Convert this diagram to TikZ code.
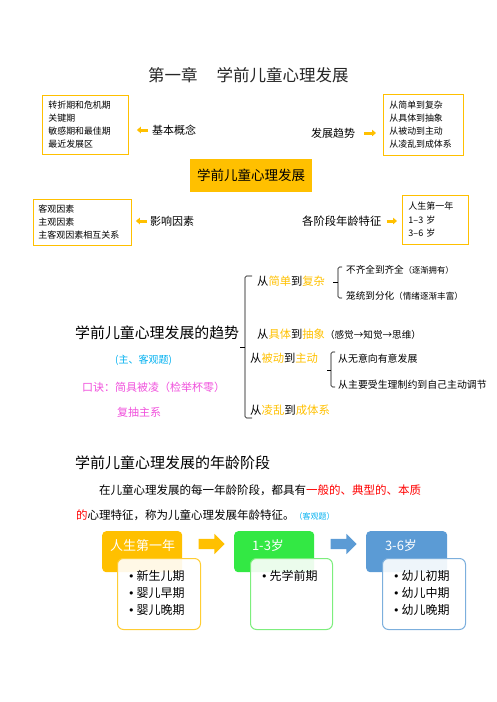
\documentclass[tikz,border=0pt]{standalone}
\usepackage{fontspec}
\setmainfont{Noto Sans CJK SC}
\newfontfamily\dejavu{DejaVu Sans}
\usetikzlibrary{shapes.arrows,arrows.meta}
\definecolor{orng}{RGB}{255,192,0}
\definecolor{grn}{RGB}{51,232,68}
\definecolor{lgrn}{RGB}{125,238,125}
\definecolor{blu}{RGB}{91,155,213}
\definecolor{cyn}{RGB}{0,176,240}
\definecolor{mgt}{RGB}{240,80,220}
\newcommand{\fs}[2]{\fontsize{#1}{#2}\selectfont}
\newcommand{\bul}{\makebox[8.5pt][l]{{\dejavu\fs{11}{13}•}}}
\tikzset{
 lbl/.style={inner sep=0,anchor=west},
 listbox/.style={draw=orng,line width=0.9pt,align=left,inner xsep=6pt,anchor=north west},
 sarrow/.style={orng,line width=3pt,-{Triangle[length=4pt,width=6.5pt]}},
 brk/.style={line width=0.6pt,rounded corners=1.5pt},
 head/.style={rounded corners=4pt,anchor=north west,minimum width=80pt,minimum height=41pt,inner sep=0},
 body/.style={line width=1pt,fill=white,fill opacity=0.9,rounded corners=6pt,anchor=north west,minimum width=83pt,minimum height=71pt,inner sep=0},
 htext/.style={font=\fs{13}{15},text=white,inner sep=0},
 item/.style={lbl,font=\fs{12}{14}},
 barrow/.style={single arrow,minimum height=26pt,minimum width=20pt,single arrow head extend=5pt,inner xsep=0,inner ysep=5pt}
}
\begin{document}
\begin{tikzpicture}[x=1pt,y=-1pt]
 \useasboundingbox (0,0) rectangle (496,702);
 \node[lbl,font=\fs{16.5}{18},text=black!85] (tt) at (148,75) {第一章\hspace{19pt}学前儿童心理发展};
 \node[listbox,text width=74pt,minimum height=59pt,font=\fs{8.9}{13}] (gnbox) at (42,95) {转折期和危机期\\关键期\\敏感期和最佳期\\最近发展区};
 \node[lbl,font=\fs{11}{13}] (jbgn) at (152,130) {基本概念};
 \draw[sarrow] ([xshift=-4pt]jbgn.west) -- ([xshift=8pt]jbgn.west -| gnbox.east);
 \node[listbox,text width=68pt,minimum height=61pt,font=\fs{8.9}{13}] (qsbox) at (383,94) {从简单到复杂\\从具体到抽象\\从被动到主动\\从凌乱到成体系};
 \node[lbl,font=\fs{11}{13}] (fzqs) at (311,133) {发展趋势};
 \draw[sarrow] ([xshift=9pt]fzqs.east) -- ([xshift=-7pt]fzqs.east -| qsbox.west);
 \node[fill=orng,minimum width=122pt,minimum height=33pt,font=\fs{13.5}{15},anchor=north west,inner sep=0] (xq) at (190,159) {学前儿童心理发展};
 \node[listbox,text width=88pt,inner xsep=5pt,minimum height=46pt,font=\fs{9}{13}] (ysbox) at (33,199) {客观因素\\主观因素\\主客观因素相互关系};
 \node[lbl,font=\fs{11}{13}] (yxys) at (150,221) {影响因素};
 \draw[sarrow] ([xshift=-3pt]yxys.west) -- ([xshift=4pt]yxys.west -| ysbox.east);
 \node[listbox,text width=54pt,minimum height=49pt,font=\fs{9}{13.5}] (tzbox) at (402,195) {人生第一年\\1–3 岁\\3–6 岁};
 \node[lbl,font=\fs{11.3}{13}] (tz) at (302,221) {各阶段年龄特征};
 \draw[sarrow] ([xshift=5pt]tz.east) -- ([xshift=-5pt]tz.east -| tzbox.west);

 \node[lbl,font=\fs{14.9}{16}] (qs) at (75,333) {学前儿童心理发展的趋势};
 \node[lbl,font=\fs{10}{12},text=cyn] (zk) at (115,360) {(主、客观题)};
 \node[lbl,font=\fs{11}{13},text=mgt] (kj) at (82,387) {口诀：简具被凌（检举杯零）};
 \node[lbl,font=\fs{11}{13},text=mgt] (kj2) at (117,412) {复抽主系};
 \node[lbl,font=\fs{11.3}{13}] (b1) at (257,281) {从\textcolor{orng}{简单}到\textcolor{orng}{复杂}};
 \node[lbl,font=\fs{11.3}{13}] (b2) at (257,334) {从\textcolor{orng}{具体}到\textcolor{orng}{抽象}{\fs{9.6}{11}（感觉→知觉→思维）}};
 \node[lbl,font=\fs{11.3}{13}] (b3) at (250,358) {从\textcolor{orng}{被动}到\textcolor{orng}{主动}};
 \node[lbl,font=\fs{11.4}{13}] (b4) at (250,410) {从\textcolor{orng}{凌乱}到\textcolor{orng}{成体系}};
 \node[lbl,font=\fs{9.6}{12}] (b11) at (346,270) {不齐全到齐全{\fs{8.3}{10}（逐渐拥有）}};
 \node[lbl,font=\fs{9.6}{12}] (b12) at (346,296) {笼统到分化{\fs{8.6}{10}（情绪逐渐丰富）}};
 \node[lbl,font=\fs{9.9}{12}] (b31) at (338,359) {从无意向有意发展};
 \node[lbl,font=\fs{9.9}{12}] (b32) at (338,385) {从主要受生理制约到自己主动调节};
 \draw[brk] (252,276) -| (245,418) -- (252,418);
 \draw[brk] (245,347) -- (240,347);
 \draw[brk] (342,267) -| (338,298) -- (342,298);
 \draw[brk] (338,282) -- (333,282);
 \draw[brk] (335,352) -| (331,387) -- (335,387);
 \draw[brk] (331,370) -- (327,370);

 \node[lbl,font=\fs{15}{16}] (nl) at (75,463) {学前儿童心理发展的年龄阶段};
 \node[lbl,font=\fs{11.5}{13}] (p1) at (99,490) {在儿童心理发展的每一年龄阶段，都具有\textcolor{red}{一般的、典型的、本质}};
 \node[lbl,font=\fs{11.5}{13}] (p2) at (76,515) {\textcolor{red}{的}心理特征，称为儿童心理发展年龄特征。\textcolor{cyn}{\fs{8}{10}（客观题）}};

 \node[head,fill=orng] (h1) at (102,531) {};
 \node[head,fill=grn] (h2) at (234,531) {};
 \node[head,fill=blu,minimum width=81pt] (h3) at (366,531) {};
 \node[htext] (h1t) at (142.5,546) {人生第一年};
 \node[htext] (h2t) at (268,546) {1-3岁};
 \node[htext] (h3t) at (401,546) {3-6岁};
 \node[barrow,fill=orng] (a1) at (209,544) {};
 \node[barrow,fill=blu] (a2) at (341,544) {};
 \node[body,draw=orng!80] (d1) at (117,558) {};
 \node[body,draw=lgrn,minimum width=82pt] (d2) at (250,558) {};
 \node[body,draw=blu!80] (d3) at (382,558) {};
 \foreach \t [count=\i] in {新生儿期,婴儿早期,婴儿晚期}
  \node[item] (d1i\i) at (128,{559+17*\i}) {\bul\t};
 \node[item] (d2i1) at (261,576) {\bul 先学前期};
 \foreach \t [count=\i] in {幼儿初期,幼儿中期,幼儿晚期}
  \node[item] (d3i\i) at (393,{559+17*\i}) {\bul\t};
\end{tikzpicture}
\end{document}
